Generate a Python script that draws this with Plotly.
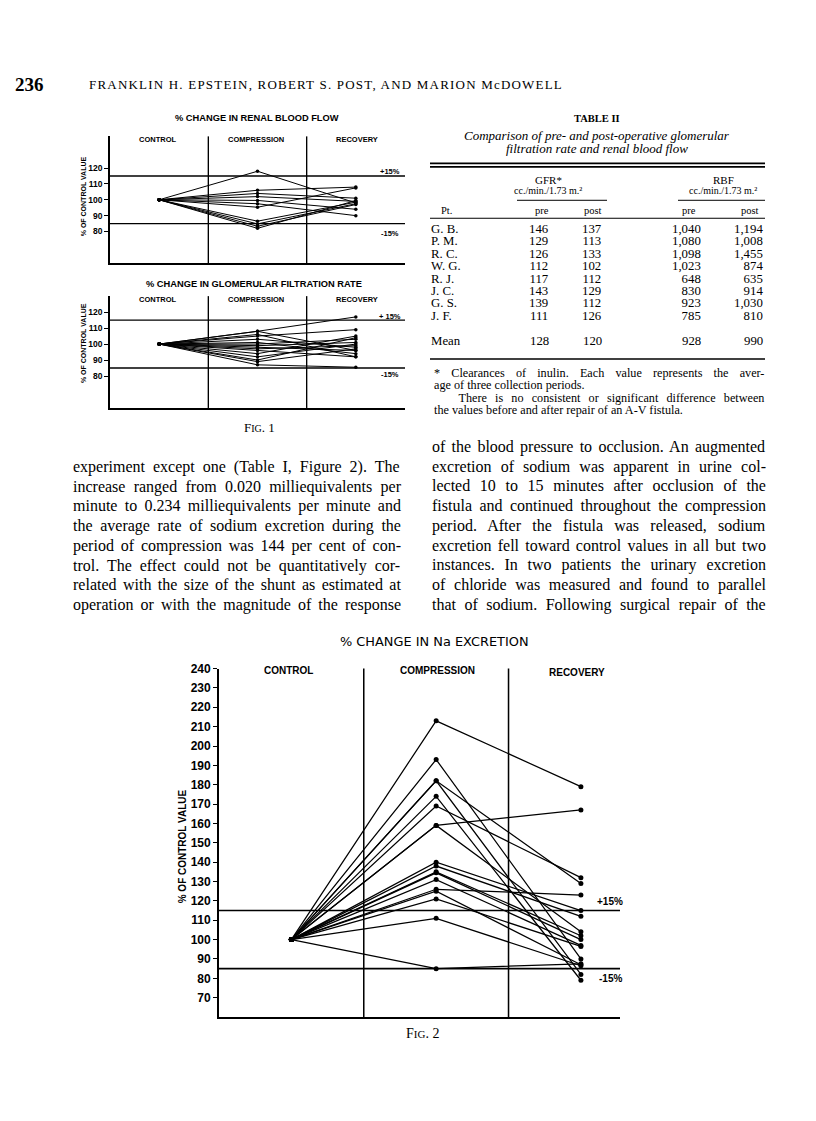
import plotly.graph_objects as go

# ---------------- data ----------------
phase_labels = ["CONTROL", "COMPRESSION", "RECOVERY"]
phase_x = [0.5, 1.5, 2.5]
control_value = 100

# Fig 1 (top): % change in renal blood flow
rbf_comp = [118, 106, 104, 102, 99.6, 97.5, 95.3, 86.5, 84.8, 83.3, 82]
rbf_rec = [98, 108, 101, 99, 94, 90, 107.5, 98.5, 97.5, 97, 99.5]

# Fig 1 (bottom): % change in glomerular filtration rate
gfr_comp = [108, 108, 106, 105, 103, 101, 100, 99, 98, 97, 96, 94, 92, 90, 89, 87]
gfr_rec = [117, 96, 92, 109, 98, 94, 103, 101, 96, 99, 92, 105, 100, 104, 97, 85.5]

# Fig 2: % change in Na excretion
na_comp = [213, 193, 182, 182, 174, 169, 159, 159, 140, 138, 135, 134.5, 131, 126, 125, 121, 111, 85]
na_rec = [179, 90, 129, 82, 79, 132, 167, 104, 115, 112, 102, 100, 97, 123, 87, 96.5, 86.5, 87.5]

fig1_ticks = [80, 90, 100, 110, 120]
fig2_ticks = [70, 80, 90, 100, 110, 120, 130, 140, 150, 160, 170, 180, 190, 200, 210, 220, 230, 240]
limit_lines = [115, 85]
limit_labels = ["+15%", "-15%"]

# Table II
tbl_pt = ["G. B.", "P. M.", "R. C.", "W. G.", "R. J.", "J. C.", "G. S.", "J. F."]
tbl_gfr_pre = ["146", "129", "126", "112", "117", "143", "139", "111"]
tbl_gfr_post = ["137", "113", "133", "102", "112", "129", "112", "126"]
tbl_rbf_pre = ["1,040", "1,080", "1,098", "1,023", "648", "830", "923", "785"]
tbl_rbf_post = ["1,194", "1,008", "1,455", "874", "635", "914", "1,030", "810"]
tbl_mean = ["Mean", "128", "120", "928", "990"]

left_col = [
    "experiment except one (Table I, Figure 2). The",
    "increase ranged from 0.020 milliequivalents per",
    "minute to 0.234 milliequivalents per minute and",
    "the average rate of sodium excretion during the",
    "period of compression was 144 per cent of con-",
    "trol. The effect could not be quantitatively cor-",
    "related with the size of the shunt as estimated at",
    "operation or with the magnitude of the response",
]
right_col = [
    "of the blood pressure to occlusion. An augmented",
    "excretion of sodium was apparent in urine col-",
    "lected 10 to 15 minutes after occlusion of the",
    "fistula and continued throughout the compression",
    "period. After the fistula was released, sodium",
    "excretion fell toward control values in all but two",
    "instances. In two patients the urinary excretion",
    "of chloride was measured and found to parallel",
    "that of sodium. Following surgical repair of the",
]
footnote = [
    "* Clearances of inulin. Each value represents the aver-",
    "age of three collection periods.",
    "\u00a0\u00a0\u00a0There is no consistent or significant difference between",
    "the values before and after repair of an A-V fistula.",
]

SERIF = "Liberation Serif"
SANS = "Liberation Sans"

# Times / Liberation Serif advance widths (1/1000 em) for justification
TW = {" ": 250, "\u00a0": 250, "!": 333, "%": 833, "(": 333, ")": 333, "*": 500, ",": 250,
      "-": 333, ".": 250, "/": 278, ":": 278, ";": 278, "?": 444,
      "A": 722, "B": 667, "C": 667, "D": 722, "E": 611, "F": 556, "G": 722, "H": 722, "I": 333,
      "J": 389, "K": 722, "L": 611, "M": 889, "N": 722, "O": 722, "P": 556, "Q": 722, "R": 667,
      "S": 556, "T": 611, "U": 722, "V": 722, "W": 944, "X": 722, "Y": 722, "Z": 611,
      "a": 444, "b": 500, "c": 444, "d": 500, "e": 444, "f": 333, "g": 500, "h": 500, "i": 278,
      "j": 278, "k": 500, "l": 278, "m": 778, "n": 500, "o": 500, "p": 500, "q": 500, "r": 333,
      "s": 389, "t": 278, "u": 500, "v": 500, "w": 722, "x": 500, "y": 500, "z": 444}


def text_width(s, size):
    return sum(TW.get(ch, 500) for ch in s) / 1000.0 * size


OFF = 8  # page body margin of the html page
FW, FH = 816 - OFF, 1121 - OFF

fig = go.Figure()
ann = []
shapes = []


def px(x):
    return (x - OFF) / FW


def py(y):
    yy = y - (5.5 - 0.0048 * y)
    return 1 - (yy - OFF) / FH


def txt(x, y, s, size, family=SERIF, anchor="left", weight="normal", angle=0, style="normal"):
    ann.append(dict(x=px(x), y=py(y), xref="paper", yref="paper", text=s, showarrow=False,
                    xanchor=anchor, yanchor="middle", textangle=angle, borderpad=0,
                    font=dict(family=family, size=size, color="black", weight=weight, style=style)))


def block(x, y_first, lines, spacing, size, anchor="left", widths=None, family=SERIF):
    parts = []
    for i, line in enumerate(lines):
        st = f"font-size:{size}px"
        if widths is not None and widths[i]:
            n = line.count(" ") + line.count("\u00a0")
            ws = (widths[i] - text_width(line, size)) / max(n, 1)
            st += f";word-spacing:{ws:.2f}px"
        parts.append(f"<span style='{st}'>{line}</span>")
    yc = y_first + spacing * (len(lines) - 1) / 2.0
    ann.append(dict(x=px(x), y=py(yc), xref="paper", yref="paper", text="<br>".join(parts),
                    showarrow=False, xanchor=anchor, yanchor="middle", align=anchor, borderpad=0,
                    font=dict(family=family, size=spacing / 1.3, color="black")))


def hline(x0, x1, y, w=1.0):
    shapes.append(dict(type="line", xref="paper", yref="paper", x0=px(x0), x1=px(x1),
                       y0=py(y), y1=py(y), line=dict(color="black", width=w)))


def add_panel(idx, comp, rec, xdom, ydom, yrange, xmax, ticks, tsize, msize, lw, alw):
    xa = "x" if idx == 1 else f"x{idx}"
    ya = "y" if idx == 1 else f"y{idx}"
    for c, r in zip(comp, rec):
        fig.add_trace(go.Scatter(x=phase_x, y=[control_value, c, r], xaxis=xa, yaxis=ya,
                                 mode="lines+markers", showlegend=False, hoverinfo="skip",
                                 line=dict(color="black", width=lw),
                                 marker=dict(color="black", size=msize)))
    axx = dict(domain=xdom, range=[0, xmax], showline=True, linecolor="black", linewidth=alw,
               showgrid=False, zeroline=False, showticklabels=False, ticks="", anchor=ya)
    axy = dict(domain=ydom, range=yrange, showline=True, linecolor="black", linewidth=alw,
               showgrid=False, zeroline=False, tickvals=ticks, ticks="outside", ticklen=4,
               tickcolor="black", tickwidth=1.2,
               tickfont=dict(family=SANS, size=tsize, color="black", weight="bold"), anchor=xa)
    key = "" if idx == 1 else str(idx)
    fig.update_layout(**{"xaxis" + key: axx, "yaxis" + key: axy})
    for xv in [1, 2]:
        shapes.append(dict(type="line", xref=xa, yref=ya + " domain", x0=xv, x1=xv, y0=0, y1=1,
                           line=dict(color="black", width=alw * 0.85)))
    for yv in limit_lines:
        shapes.append(dict(type="line", xref=xa + " domain", yref=ya, x0=0, x1=1, y0=yv, y1=yv,
                           line=dict(color="black", width=alw * 0.85)))


# Fig 1 top (RBF)
add_panel(1, rbf_comp, rbf_rec, [px(110), px(405)], [py(262), py(135)], [60, 140], 3,
          fig1_ticks, 8.5, 3.5, 1.0, 1.6)
# Fig 1 bottom (GFR)
add_panel(2, gfr_comp, gfr_rec, [px(110), px(405)], [py(407), py(295)], [60, 130], 3,
          fig1_ticks, 8.5, 3.5, 1.0, 1.6)
# Fig 2 (Na)
add_panel(3, na_comp, na_rec, [px(219), px(620)], [py(1017), py(668)], [60, 240], 2.77,
          fig2_ticks, 12, 5, 1.25, 1.8)

# ---------- Fig 1 texts ----------
txt(257, 117, "% CHANGE IN RENAL BLOOD FLOW", 9.3, SANS, "center", "bold")
txt(254, 283, "% CHANGE IN GLOMERULAR FILTRATION RATE", 9.3, SANS, "center", "bold")
for yh in [138, 298]:
    for lab, xc in zip(phase_labels, [157, 256, 357]):
        txt(xc, yh, lab, 7.5, SANS, "center", "bold")
txt(83, 195, "% OF CONTROL VALUE", 7, SANS, "center", "bold", -90)
txt(83, 342, "% OF CONTROL VALUE", 7, SANS, "center", "bold", -90)
txt(390, 170, "+15%", 7.5, SANS, "center", "bold")
txt(390, 232, "-15%", 7.5, SANS, "center", "bold")
txt(390, 315, "+ 15%", 7.5, SANS, "center", "bold")
txt(390, 373, "-15%", 7.5, SANS, "center", "bold")
txt(259, 427, "F<span style='font-size:10px'>IG</span>. 1", 13, SERIF, "center")

# ---------- Fig 2 texts ----------
txt(434, 641, "% CHANGE IN Na EXCRETION", 12.9, "DejaVu Sans", "center")
for lab, xc, yc in zip(phase_labels, [288, 437, 577], [670, 670, 672]):
    txt(xc, yc, lab, 10, SANS, "center", "bold")
txt(182, 846, "% OF CONTROL VALUE", 10, SANS, "center", "bold", -90)
txt(610, 901, limit_labels[0], 10, SANS, "center", "bold")
txt(610, 978, limit_labels[1], 10, SANS, "center", "bold")
txt(422, 1033, "F<span style='font-size:11px'>IG</span>. 2", 14, SERIF, "center")

# ---------- page header ----------
txt(14, 83, "<b>236</b>", 19, SERIF, "left")
txt(88, 83, "<span style='letter-spacing:1.2px'>FRANKLIN H. EPSTEIN, ROBERT S. POST, AND MARION McDOWELL</span>",
    13, SERIF, "left")

# ---------- Table II ----------
txt(597, 117, "<b>TABLE II</b>", 10.5, SERIF, "center")
txt(597, 134, "Comparison of pre- and post-operative glomerular", 13, SERIF, "center", style="italic")
txt(597, 147, "filtration rate and renal blood flow", 13, SERIF, "center", style="italic")
hline(430, 765, 162, 1.6)
hline(430, 765, 165.5, 1.6)
txt(548, 179, "GFR*", 11, SERIF, "center")
txt(548, 189.5, "cc./min./1.73 m.²", 10, SERIF, "center")
txt(723, 179, "RBF", 11, SERIF, "center")
txt(723, 189.5, "cc./min./1.73 m.²", 10, SERIF, "center")
hline(517, 607, 199, 1.0)
hline(678, 765, 199, 1.0)
txt(440, 209, "Pt.", 10.5, SERIF, "left")
for lab, xc in zip(["pre", "post", "pre", "post"], [542, 593, 689, 750]):
    txt(xc, 209, lab, 10.5, SERIF, "center")
hline(430, 765, 217, 1.0)
row0, rowh = 228, 12.4
block(430, row0, tbl_pt, rowh, 12.8, "left")
for xr, col in zip([550, 603, 702, 764], [tbl_gfr_pre, tbl_gfr_post, tbl_rbf_pre, tbl_rbf_post]):
    block(xr, row0, col, rowh, 12.8, "right")
txt(430, 340, tbl_mean[0], 12.8, SERIF, "left")
for xr, v in zip([550, 603, 702, 764], tbl_mean[1:]):
    txt(xr, 340, v, 12.8, SERIF, "right")
hline(430, 765, 358, 1.4)
block(433, 372, footnote, 12.4, 12.2, "left", widths=[331, None, 331, None])

# ---------- body text ----------
block(72, 466, left_col, 19.7, 16, "left", widths=[328] * len(left_col))
block(431, 446, right_col, 19.7, 16, "left", widths=[334] * len(right_col))

fig.update_layout(width=FW, height=FH, autosize=False, margin=dict(l=0, r=0, t=0, b=0),
                  paper_bgcolor="white", plot_bgcolor="white", showlegend=False,
                  annotations=ann, shapes=shapes)

fig.write_html("out.html")
